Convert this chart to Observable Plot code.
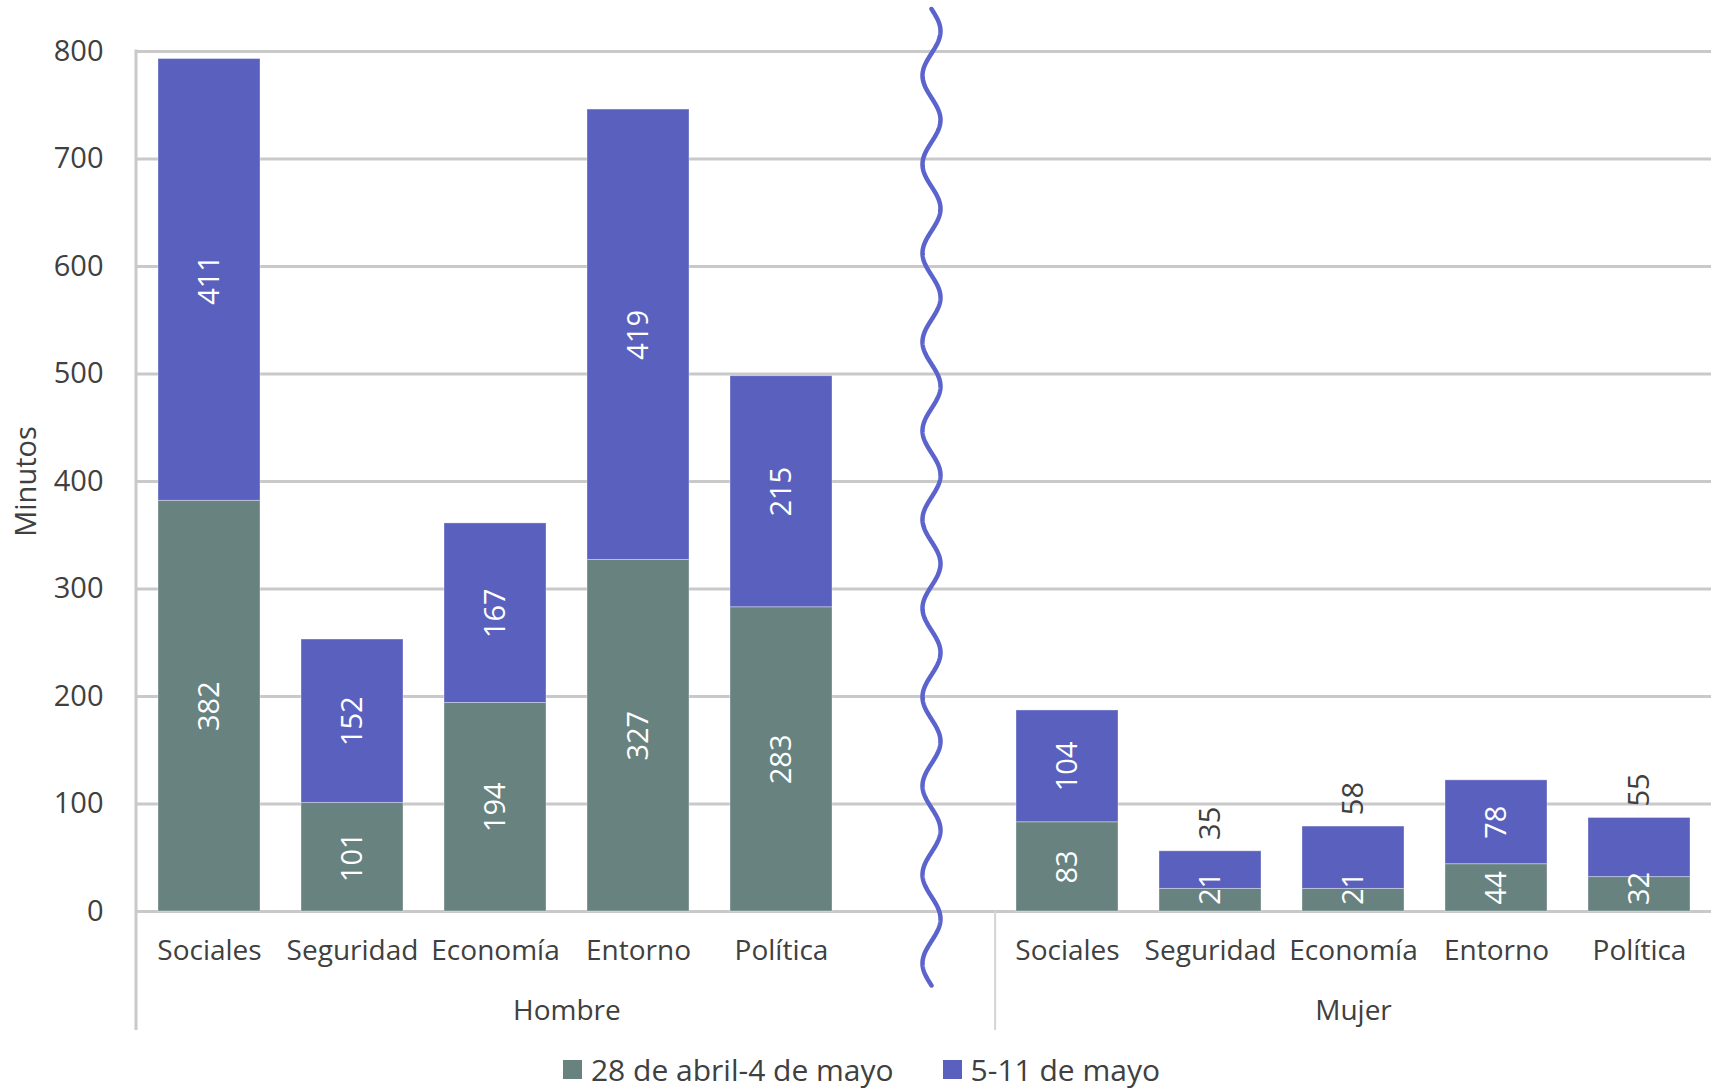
<!DOCTYPE html>
<html><head><meta charset="utf-8">
<script src="https://cdn.jsdelivr.net/npm/d3@7"></script>
<script src="https://cdn.jsdelivr.net/npm/@observablehq/plot@0.6"></script>
<style>
body{margin:0;background:#fff;font-family:"Open Sans",sans-serif;}
#legend{display:flex;justify-content:center;align-items:center;gap:49px;font-size:30px;color:#404040;height:45px;padding-left:12px;margin-top:1px}
.item{display:flex;align-items:center;gap:9px}
.sw{width:19px;height:19px;display:inline-block}
</style></head><body>
<div id="chart"></div>
<div id="legend"></div>
<script>
const groups = ["Hombre", "Mujer"];
const categories = ["Sociales", "Seguridad", "Economía", "Entorno", "Política"];
const series = ["28 de abril-4 de mayo", "5-11 de mayo"];
const hombreS1 = [382, 101, 194, 327, 283];
const hombreS2 = [411, 152, 167, 419, 215];
const mujerS1 = [83, 21, 21, 44, 32];
const mujerS2 = [104, 35, 58, 78, 55];
const yTicks = [0, 100, 200, 300, 400, 500, 600, 700, 800];
const yLabel = "Minutos";
const colors = ["#68827f", "#5a60be"];

const values = {Hombre: [hombreS1, hombreS2], Mujer: [mujerS1, mujerS2]};
const gapKey = "|gap";
const keyOf = (g, c) => g + "|" + c;
const xDomain = [
  ...categories.map(c => keyOf("Hombre", c)),
  gapKey,
  ...categories.map(c => keyOf("Mujer", c))
];

const rows = [];
series.forEach((s, si) => {
  groups.forEach(g => {
    categories.forEach((c, i) => {
      rows.push({key: keyOf(g, c), group: g, cat: c, series: s, value: values[g][si][i], base: si === 0 ? 0 : values[g][0][i]});
    });
  });
});

const insideLabels = [];
const outsideLabels = [];
rows.forEach(r => {
  if (r.base === 0) {
    insideLabels.push({key: r.key, y: Math.max(r.value / 2, 21.5), text: String(r.value)});
  } else if (r.value < 70) {
    outsideLabels.push({key: r.key, y: r.base + r.value, text: String(r.value)});
  } else {
    insideLabels.push({key: r.key, y: r.base + r.value / 2, text: String(r.value)});
  }
});

const W = 1711, H = 1046, ML = 136, MR = 0, MT = 51, MB = 135;
const step = (W - ML - MR) / xDomain.length;
const FS = 29, FSX = 28;
const textColor = "#404040";
const lineColor = "#c9c9c9";

const plot = Plot.plot({
  width: W, height: H,
  marginLeft: ML, marginRight: MR, marginTop: MT, marginBottom: MB,
  style: {fontFamily: '"Open Sans", sans-serif', fontSize: FS + "px", color: textColor, background: "white"},
  x: {type: "band", domain: xDomain, paddingInner: 0.287, paddingOuter: 0.1435, axis: null, label: null},
  y: {domain: [0, 800], axis: null, label: null},
  color: {domain: series, range: colors},
  marks: [
    Plot.gridY(yTicks, {stroke: lineColor, strokeOpacity: 1, strokeWidth: 3}),
    Plot.barY(rows, {x: "key", y: "value", fill: "series", inset: 0, stroke: "white", strokeOpacity: 0.35, strokeWidth: 1}),
    Plot.axisY(yTicks, {tickSize: 0, tickPadding: 33, fontSize: FS, fill: textColor, label: null, tickFormat: d => String(d)}),
    Plot.axisX({tickSize: 0, tickPadding: 29, fontSize: FSX, fill: textColor, label: null, tickFormat: k => k === gapKey ? "" : k.split("|")[1]}),
    Plot.text(insideLabels, {x: "key", y: "y", text: "text", rotate: -90, fill: "white", fontSize: FS}),
    Plot.text(outsideLabels, {x: "key", y: "y", text: "text", rotate: -90, fill: textColor, fontSize: FS, dy: -28}),
    Plot.text([groups[0]], {x: () => keyOf("Hombre", categories[3]), text: d => d, frameAnchor: "bottom", textAnchor: "middle", lineAnchor: "top", dy: 89, dx: -step / 2, fontSize: FSX, fill: textColor}),
    Plot.text([groups[1]], {x: () => keyOf("Mujer", categories[2]), text: d => d, frameAnchor: "bottom", textAnchor: "middle", lineAnchor: "top", dy: 89, fontSize: FSX, fill: textColor}),
    Plot.text([yLabel], {text: d => d, frameAnchor: "left", textAnchor: "middle", lineAnchor: "middle", rotate: -90, dx: -110, fontSize: FS, fill: textColor})
  ]
});

// decorations: axis frame line, group divider, break wave
const svg = d3.select(plot);
const xs = plot.scale("x"), ys = plot.scale("y");
const yA = v => ys.apply ? ys.apply(v) : ys.range[0] + (v - ys.domain[0]) / (ys.domain[1] - ys.domain[0]) * (ys.range[1] - ys.range[0]);
const x0 = xs.range[0], x1 = xs.range[1];
const st = (x1 - x0) / xs.domain.length;
const yTop = yA(800), yBot = yA(0);
svg.append("line").attr("x1", x0).attr("x2", x0).attr("y1", yTop - 1.5).attr("y2", yBot + 119)
  .attr("stroke", lineColor).attr("stroke-width", 3);
const divIdx = xs.domain.indexOf(keyOf("Mujer", categories[0]));
svg.append("line").attr("x1", x0 + divIdx * st).attr("x2", x0 + divIdx * st).attr("y1", yBot).attr("y2", yBot + 119)
  .attr("stroke", "#d4d4d4").attr("stroke-width", 2);
const gapIdx = xs.domain.indexOf(gapKey);
const cx = x0 + (gapIdx + 0.5) * st + 8;
const wTop = yTop - 42, wBot = yBot + 74.5, periods = 11, amp = 9;
const pts = d3.range(0, 1.0001, 1 / 1200).map(t => [cx + amp * Math.sin(2 * Math.PI * periods * t), wTop + t * (wBot - wTop)]);
svg.append("path").attr("d", d3.line()(pts)).attr("fill", "none").attr("stroke", "#5b63cc")
  .attr("stroke-width", 4.5).attr("stroke-linecap", "round");

document.getElementById("chart").appendChild(plot);

const legend = d3.select("#legend");
series.forEach((s, i) => {
  const it = legend.append("div").attr("class", "item");
  it.append("span").attr("class", "sw").style("background", colors[i]);
  it.append("span").text(s);
});
</script>
</body></html>
